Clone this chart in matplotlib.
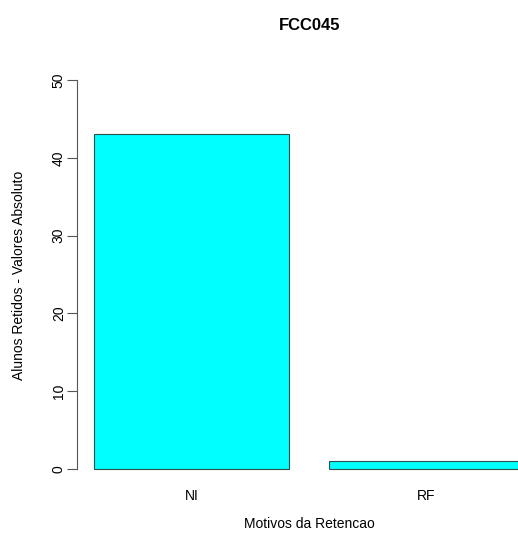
import matplotlib
matplotlib.use("Agg")
import matplotlib.pyplot as plt

motivos = ["NI", "RF"]
alunos = [43, 1]
yticks = [0, 10, 20, 30, 40, 50]

plt.rcParams['font.family'] = ['Liberation Sans', 'DejaVu Sans']

W, H = 518, 535
fig = plt.figure(figsize=(W / 100, H / 100), dpi=100)
# R style plot region, extending past the right edge like the original
ax = fig.add_axes([77 / W, (H - 484.6) / H, (541 - 77) / W, (484.6 - 64.4) / H])

# R barplot: width 1, space 0.2
lefts = [0.2 + i * 1.2 for i in range(len(alunos))]
centers = [l + 0.5 for l in lefts]
ax.bar(centers, alunos, width=1.0, color='#00FFFF', edgecolor='#2f4f4f', linewidth=0.8)

ax.set_xlim(0.112, 2.488)
ax.set_ylim(-2, 52)

for s in ['top', 'right', 'bottom']:
    ax.spines[s].set_visible(False)
ax.spines['left'].set_bounds(0, 50)
ax.spines['left'].set_color('#555555')
ax.set_yticks(yticks)
ax.set_yticklabels([str(v) for v in yticks], rotation=90, va='center')
ax.tick_params(axis='y', length=7, color='#555555', labelsize=10, pad=1)
ax.set_xticks(centers)
ax.set_xticklabels(motivos)
ax.tick_params(axis='x', length=0, labelsize=10, pad=3)

fig.text(309 / W, 1 - 524 / H, "Motivos da Retencao", ha='center', va='center', fontsize=10)
fig.text(19 / W, 1 - 275 / H, "Alunos Retidos - Valores Absoluto", ha='center', va='center',
         rotation=90, fontsize=10)
fig.text(310 / W, 1 - 25 / H, "FCC045", ha='center', va='center', fontsize=12, fontweight='bold')

fig.savefig("out.png", dpi=100)
